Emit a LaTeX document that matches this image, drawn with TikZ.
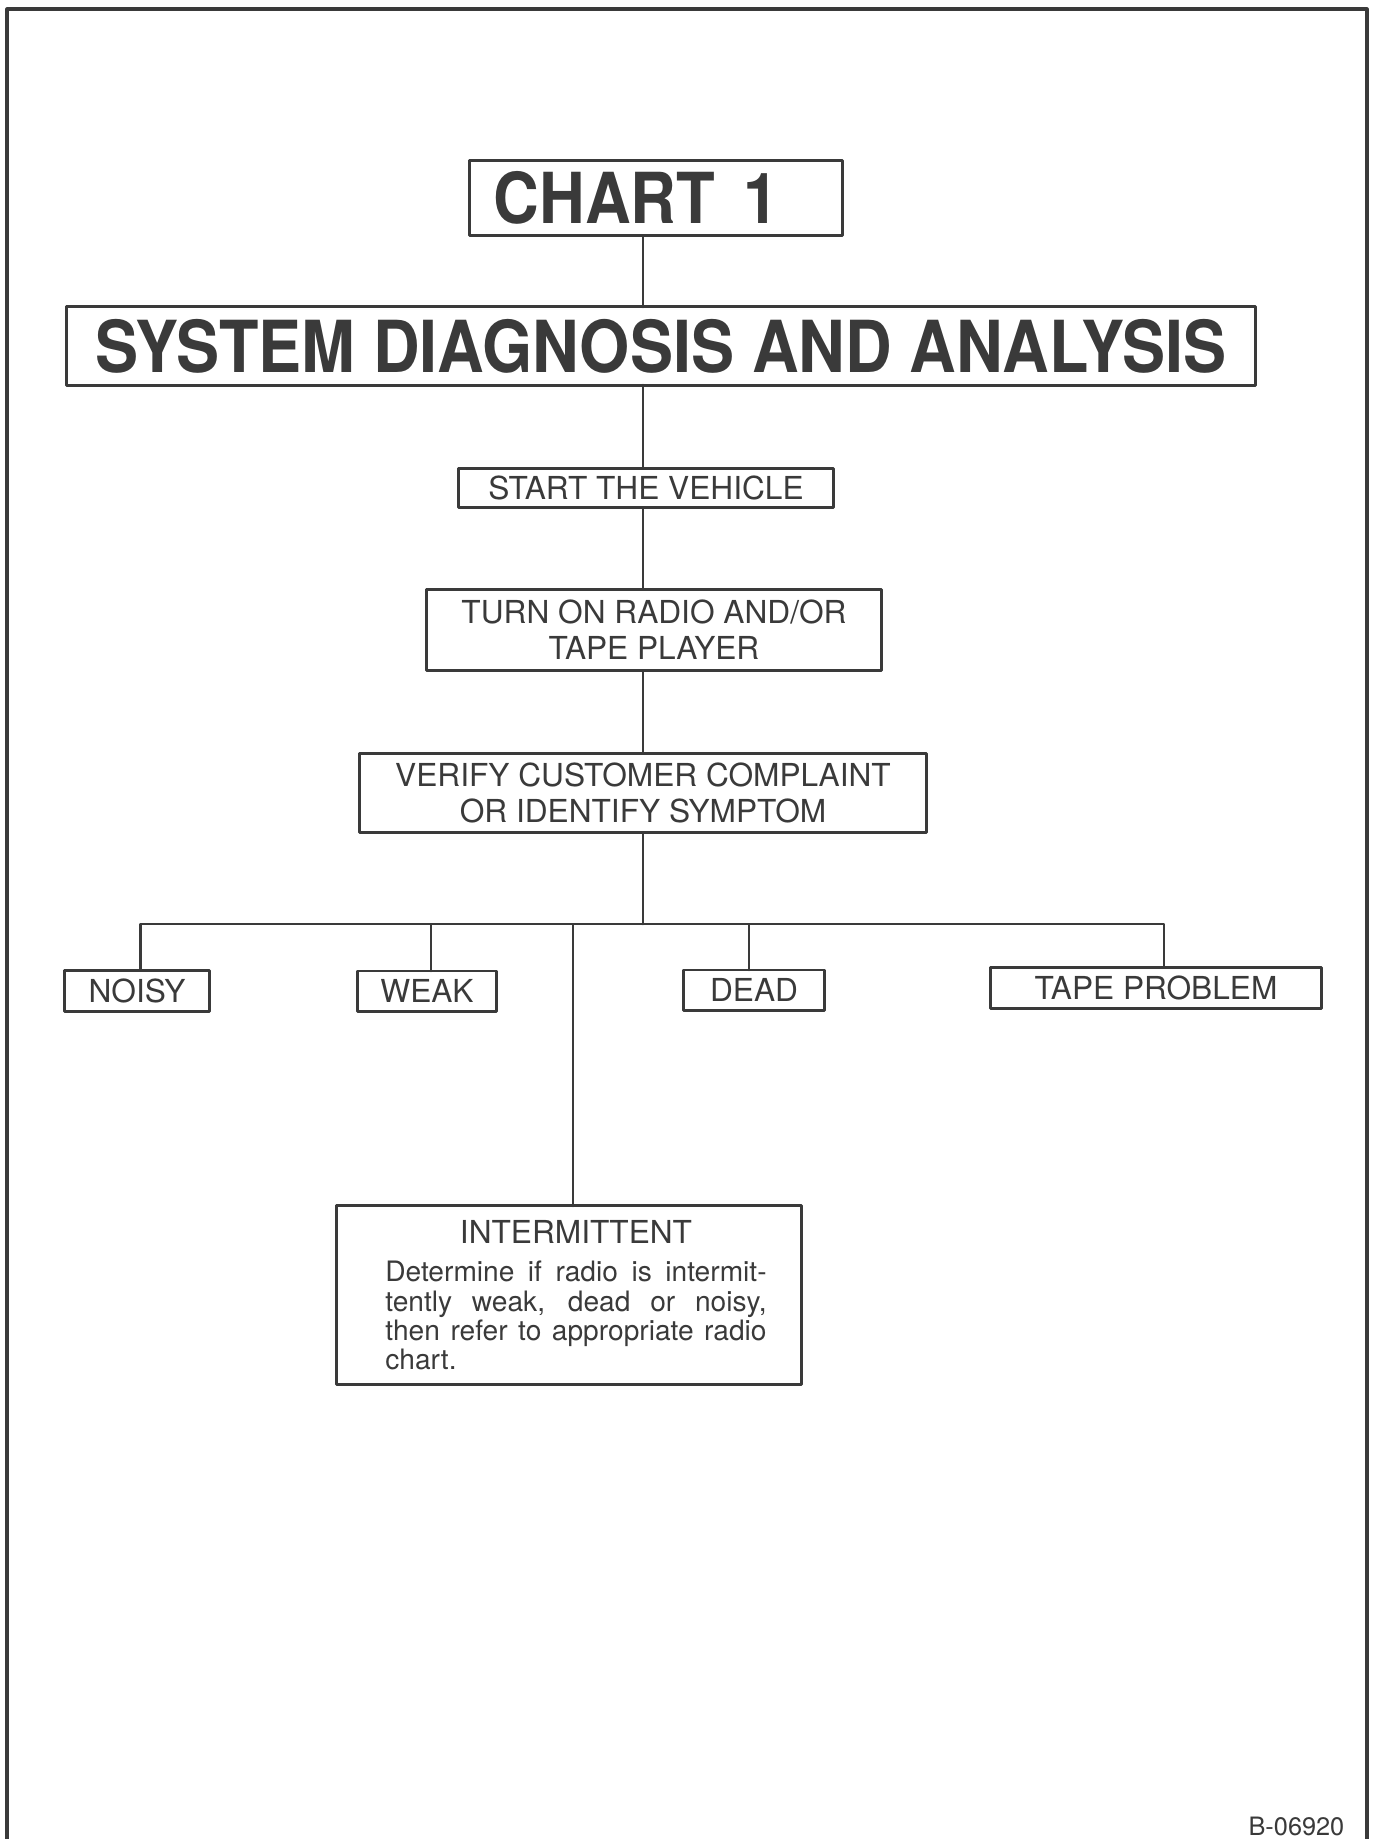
\documentclass[tikz,border=0pt]{standalone}
\usepackage{fontspec}
\setmainfont{TeX Gyre Heros}
\newfontfamily\narrowfont[FakeStretch=0.9]{TeX Gyre Heros}
\definecolor{inkgray}{RGB}{58,58,58}

\begin{document}
\begin{tikzpicture}[x=0.01cm,y=-0.01cm,line cap=round,line join=round,
        box/.style={draw=inkgray,line width=0.85pt,inner sep=0pt,outer sep=0pt,
            text=inkgray,align=center,font=\fontsize{9}{10.2}\selectfont},
        link/.style={draw=inkgray,line width=0.75pt}]
        \useasboundingbox (0,0) rectangle (1375,1839);
        \draw[inkgray,line width=0.9pt] (7,1839) -- (7,9) -- (1367,9) -- (1367,1839);

        \node[box,minimum width=3.72cm,minimum height=0.75cm,
            font=\narrowfont\bfseries\fontsize{20}{24}\selectfont] (chart) at (656,198) {CHART\hspace{0.4em}1\hspace*{0.4cm}};
        \node[box,minimum width=11.88cm,minimum height=0.78cm,
            font=\narrowfont\bfseries\fontsize{20.4}{24}\selectfont] (title) at (661,346) {SYSTEM DIAGNOSIS AND ANALYSIS};
        \node[box,minimum width=3.75cm,minimum height=0.39cm] (start) at (646,488) {START THE VEHICLE};
        \node[box,minimum width=4.54cm,minimum height=0.81cm] (turnon) at (654,630) {TURN ON RADIO AND/OR\\TAPE PLAYER};
        \node[box,minimum width=5.67cm,minimum height=0.79cm] (verify) at (643,793) {VERIFY CUSTOMER COMPLAINT\\OR IDENTIFY SYMPTOM};

        \node[box,minimum width=1.45cm,minimum height=0.41cm] (noisy) at (137,991) {NOISY};
        \node[box,minimum width=1.39cm,minimum height=0.40cm] (weak) at (427,991) {WEAK};
        \node[box,minimum width=1.40cm,minimum height=0.40cm] (dead) at (754,990) {DEAD};
        \node[box,minimum width=3.30cm,minimum height=0.41cm] (tape) at (1156,988) {TAPE PROBLEM};
        \node[box,minimum width=4.64cm,minimum height=1.78cm,font=\fontsize{9}{11}\selectfont] (inter) at (569,1295)
            {\hspace*{0.14cm}INTERMITTENT\\\hspace*{0.14cm}\parbox[t]{3.81cm}{\fontsize{8}{8.3}\selectfont
            Determine if radio is intermit-\linebreak tently weak, dead or noisy,\linebreak
            then refer to appropriate radio\linebreak chart.}};

        \node[text=inkgray,anchor=base east,inner sep=0pt,font=\fontsize{7.2}{9}\selectfont] (code) at (1345,1835) {B-06920};

        \coordinate (spine) at (643,0);
        \coordinate (bus) at (643,924);
        \foreach \a/\b in {chart/title,title/start,start/turnon,turnon/verify} {
            \draw[link] (\a.south -| spine) -- (\b.north -| spine);
        }
        \draw[link] (verify.south -| spine) -- (bus);
        \foreach \n/\dx in {noisy/0.035cm,weak/0.04cm,inter/0.04cm,dead/-0.05cm,tape/0.08cm} {
            \draw[link] ([xshift=\dx]\n.north) |- (bus);
        }
    \end{tikzpicture}
\end{document}
